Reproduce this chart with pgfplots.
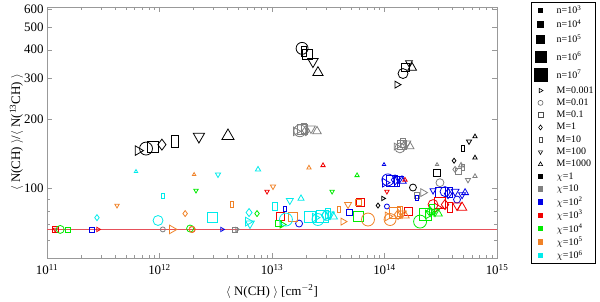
\documentclass[border=0pt]{standalone}
\usepackage{fontspec}
\setmainfont{Liberation Serif}
\usepackage{pgfplots}
\pgfplotsset{compat=1.18}
\definecolor{cgray}{RGB}{128,128,128}
\definecolor{cblue}{RGB}{0,0,230}
\definecolor{cred}{RGB}{240,0,0}
\definecolor{cgreen}{RGB}{0,235,0}
\definecolor{corange}{RGB}{240,130,40}
\definecolor{ccyan}{RGB}{0,235,235}
\definecolor{cline}{RGB}{230,80,90}
\pgfplotsset{
  pt/.style={scatter, only marks, forget plot, point meta=explicit, line width=0.8bp,
    scatter/use mapped color={draw=#1, fill=none},
    visualization depends on={\thisrow{s}\as\ms},
    scatter/@pre marker code/.append style={/tikz/mark size=\ms}},
  shR/.style={mark=triangle, mark options={rotate=-90, line width=0.8bp}},
  shC/.style={mark=o, mark options={line width=0.8bp}},
  shS/.style={mark=square, mark options={line width=0.8bp}},
  shDi/.style={mark=diamond, mark options={line width=0.8bp}},
  shRect/.style={mark=square, mark options={xscale=0.55, line width=0.8bp}},
  shD/.style={mark=triangle, mark options={rotate=180, line width=0.8bp}},
  shU/.style={mark=triangle, mark options={line width=0.8bp}},
  limg/.style={legend image code/.code={%
    \path[draw=none,fill=none] (0bp,-#1) rectangle (23bp,#1);
    \draw[mark repeat=2,mark phase=2] plot coordinates {(0bp,0bp) (8bp,0bp) (16bp,0bp)};}},
}
\begin{document}
\begin{tikzpicture}
\useasboundingbox (0,0) rectangle (600bp,302bp);
\begin{axis}[
  at={(47bp,44bp)}, anchor=south west,
  scale only axis, width=450bp, height=251bp,
  xmode=log, ymode=log,
  xmin=1e11, xmax=1e15, ymin=50, ymax=612,
  xtick={1e11,1e12,1e13,1e14,1e15},
  xticklabels={10\textsuperscript{11},10\textsuperscript{12},10\textsuperscript{13},10\textsuperscript{14},10\textsuperscript{15}},
  minor xtick={2e11,3e11,4e11,5e11,6e11,7e11,8e11,9e11,2e12,3e12,4e12,5e12,6e12,7e12,8e12,9e12,2e13,3e13,4e13,5e13,6e13,7e13,8e13,9e13,2e14,3e14,4e14,5e14,6e14,7e14,8e14,9e14},
  ytick={100,200,300,400,500,600},
  yticklabels={100,200,300,400,500,600},
  minor ytick={60,70,80,90},
  tick label style={font=\fontsize{13}{14}\selectfont},
  xticklabel style={yshift=-3bp},
  label style={font=\fontsize{13}{14}\selectfont},
  axis line style={draw=gray!80},
  tick style={draw=gray!80},
  major tick length=5bp, minor tick length=3bp,
  tick align=inside,
  xlabel={$\langle$ N(CH) $\rangle$ [cm\textsuperscript{$-$2}]},
  ylabel={$\langle$ N(CH) $\rangle$/$\langle$ N(\textsuperscript{13}CH) $\rangle$},
  xlabel style={yshift=-3bp},
  ylabel style={yshift=-6bp},
  clip=false,
  legend cell align=left,
  legend style={at={(1.0756,1.02)}, anchor=north west, draw=black, line width=0.9bp,
    font=\fontsize{10}{11}\selectfont, row sep=1.3bp, inner xsep=1bp, inner ysep=2bp,
    nodes={inner sep=1.2bp}},
  limg=5.5bp,
]
\addplot[cline, line width=0.6bp, forget plot] coordinates {(1e11,66.5) (1e15,66.5)};

% ---------- chi = 1 (black)
\addplot[pt=black, shR] table[meta=s]{
x y s
6.44e11 146 5.5
1.29e14 282 4
9.7e13 90.6 2.5
};
\addplot[pt=black, shC] table[meta=s]{
x y s
7.59e11 149 6.5
1.85e13 405 6
1.46e14 315 5
1.79e14 101 3.5
};
\addplot[pt=black, shS] table[meta=s]{
x y s
8.75e11 152 5.5
2.05e13 380 5
1.52e14 334 4
2.93e14 117 3.5
};
\addplot[pt=black, shDi] table[meta=s]{
x y s
1.05e12 155 5.5
8.75e13 84.4 2.5
4.15e14 132 2.5
};
\addplot[pt=black, shRect] table[meta=s]{
x y s
1.37e12 160 6
1.92e13 392 5
4.99e14 149 3
};
\addplot[pt=black, shD] table[meta=s]{
x y s
2.24e12 168 6.5
2.31e13 355 6
1.65e14 351 4
5.64e14 160 3
};
\addplot[pt=black, shU] table[meta=s]{
x y s
4.06e12 169 7
2.56e13 318 6
1.76e14 334 5
6.37e14 168 2.5
6.37e14 136 2.5
};

% ---------- chi = 10 (gray)
\addplot[pt=cgray, shR] table[meta=s]{
x y s
1.63e13 177 5
1.27e14 152 4
2.2e14 96 4.5
4.89e12 66.5 2.5
};
\addplot[pt=cgray, shC] table[meta=s]{
x y s
1.77e13 178 6
1.37e14 150 5
3.11e14 106 4
1.07e12 66.5 2.5
};
\addplot[pt=cgray, shS] table[meta=s]{
x y s
1.85e13 180 5
1.43e14 155 4.5
4.5e14 118.5 3
1.94e14 93.3 3
4.69e12 66.5 2.5
};
\addplot[pt=cgray, shDi] table[meta=s]{
x y s
2.0e13 178 5
1.49e14 153 4.5
4.24e14 121 3
};
\addplot[pt=cgray, shRect] table[meta=s]{
x y s
1.92e13 182 5
1.46e14 157 4.5
4.99e14 123 3
};
\addplot[pt=cgray, shD] table[meta=s]{
x y s
2.22e13 182 5
1.58e14 157 4.5
5.52e14 109 3
};
\addplot[pt=cgray, shU] table[meta=s]{
x y s
2.51e13 177 5
1.69e14 152 4.5
4.79e14 126 3
6.37e14 113 2.5
2.93e14 127 2
};

% ---------- chi = 10^2 (blue)
\addplot[pt=cblue, shR] table[meta=s]{
x y s
1.01e14 106 5
3.59e12 66.5 2.5
};
\addplot[pt=cblue, shC] table[meta=s]{
x y s
1.07e14 109 6
3.45e14 97 5
4.41e14 89.6 3.5
1.74e13 70.5 3.5
1.05e14 83.6 2.5
};
\addplot[pt=cblue, shS] table[meta=s]{
x y s
1.17e14 108 5.5
3.11e14 96 5
4.84e13 78.7 3
2.51e11 66.5 2.5
};
\addplot[pt=cblue, shDi] table[meta=s]{
x y s
1.24e14 109 5
3.67e14 95 5
};
\addplot[pt=cblue, shRect] table[meta=s]{
x y s
1.29e14 107 5
3.82e14 96 5
1.31e13 81.9 2.5
1.94e14 91.4 2.5
};
\addplot[pt=cblue, shD] table[meta=s]{
x y s
1.35e14 110 5
2.7e14 98 3.5
4.24e14 97 4.5
4.89e14 94 4
};
\addplot[pt=cblue, shU] table[meta=s]{
x y s
1.43e14 108 5
5.2e14 96 4
9.9e13 127 2
};

% ---------- chi = 10^3 (red)
\addplot[pt=cred, shR] table[meta=s]{
x y s
2.93e14 82.7 5
2.84e11 66.5 2.5
};
\addplot[pt=cred, shC] table[meta=s]{
x y s
2.7e14 85.2 5
1.95e12 66.5 3
};
\addplot[pt=cred, shS] table[meta=s]{
x y s
3.11e14 86.9 5.5
1.18e13 75.7 4
6.05e13 86.9 4
1.62e14 79.4 4
1.18e11 66.5 3
};
\addplot[pt=cred, shDi] table[meta=s]{
x y s
3.45e14 85.2 5
};
\addplot[pt=cred, shRect] table[meta=s]{
x y s
3.82e14 82.7 5
};
\addplot[pt=cred, shD] table[meta=s]{
x y s
4.41e14 84.4 5
9.03e12 97 2.5
1.05e14 97 2.5
1.18e11 66.5 2.5
};
\addplot[pt=cred, shU] table[meta=s]{
x y s
4.89e14 82.7 5.5
2.84e13 126 2.5
1.52e14 109 2.5
};

% ---------- chi = 10^4 (green)
\addplot[pt=cgreen, shR] table[meta=s]{
x y s
2.44e14 77.2 5
1.23e13 69.8 4
};
\addplot[pt=cgreen, shC] table[meta=s]{
x y s
2.07e14 71.9 6.5
1.31e11 66.5 4
1.87e12 67.1 3.5
};
\addplot[pt=cgreen, shS] table[meta=s]{
x y s
2.29e14 77.2 6
5.81e13 75.7 5
1.54e11 66.5 2.5
1.15e13 70.5 3
};
\addplot[pt=cgreen, shDi] table[meta=s]{
x y s
2.54e14 79.4 5
7.36e12 77.9 3
};
\addplot[pt=cgreen, shRect] table[meta=s]{
x y s
2.64e14 81.1 5
};
\addplot[pt=cgreen, shD] table[meta=s]{
x y s
2.81e14 79.4 5
3.42e13 97 2.5
2.11e12 98 2.5
};
\addplot[pt=cgreen, shU] table[meta=s]{
x y s
2.99e14 77.9 5
5.7e13 114 2.5
};

% ---------- chi = 10^5 (orange)
\addplot[pt=corange, shR] table[meta=s]{
x y s
1.07e14 75.7 5
1.29e12 66.5 5
4.28e13 71.9 4
};
\addplot[pt=corange, shC] table[meta=s]{
x y s
1.12e14 73.4 6
7.13e13 73.4 6.5
1.95e12 66.5 3
};
\addplot[pt=corange, shS] table[meta=s]{
x y s
1.24e14 78.7 5.5
1.54e13 75.7 4.5
5.81e13 86.9 3
};
\addplot[pt=corange, shDi] table[meta=s]{
x y s
1.32e14 77.2 5
1.69e12 77.9 3
};
\addplot[pt=corange, shRect] table[meta=s]{
x y s
1.37e14 79.4 5
4.41e12 85.2 3
3.94e13 81.1 3
};
\addplot[pt=corange, shD] table[meta=s]{
x y s
1.43e14 77.9 5
4.19e11 84.4 2.5
1.02e13 102 3
4.74e13 85.2 4
};
\addplot[pt=corange, shU] table[meta=s]{
x y s
1.52e14 76.4 5
2.13e13 123 2.5
2.03e12 115 2
};

% ---------- chi = 10^6 (cyan)
\addplot[pt=ccyan, shR] table[meta=s]{
x y s
2.41e13 74.8 5
6.12e12 71.9 5
};
\addplot[pt=ccyan, shC] table[meta=s]{
x y s
2.56e13 73.4 6
3.08e13 76.4 5
1.33e13 73.4 6.5
9.7e11 72.7 5
};
\addplot[pt=ccyan, shS] table[meta=s]{
x y s
2.78e13 75.7 6
2.18e13 75.7 5.5
2.93e12 74.8 5
};
\addplot[pt=ccyan, shDi] table[meta=s]{
x y s
2.96e13 76.4 5
2.78e11 74.8 3
6.25e12 78.7 4
};
\addplot[pt=ccyan, shRect] table[meta=s]{
x y s
3.15e13 77.9 5
1.06e13 83.6 4
1.07e12 93.3 2.5
};
\addplot[pt=ccyan, shD] table[meta=s]{
x y s
3.28e13 77.2 5
1.44e13 88.7 4
3.31e12 115 3
6.37e12 70.5 5
};
\addplot[pt=ccyan, shU] table[meta=s]{
x y s
3.49e13 75.7 5
1.81e13 90.6 3.5
6.18e11 118.5 2
7.51e12 121 3
};

% ---------- legend
\addlegendimage{limg=5.5bp, only marks, mark=square*, mark size=2, black}
\addlegendentry{n=10\textsuperscript{3}}
\addlegendimage{limg=6.5bp, only marks, mark=square*, mark size=3, black}
\addlegendentry{n=10\textsuperscript{4}}
\addlegendimage{limg=7.5bp, only marks, mark=square*, mark size=4, black}
\addlegendentry{n=10\textsuperscript{5}}
\addlegendimage{limg=8.5bp, only marks, mark=square*, mark size=5.5, black}
\addlegendentry{n=10\textsuperscript{6}}
\addlegendimage{limg=8.5bp, only marks, mark=square*, mark size=6.5, black}
\addlegendentry{n=10\textsuperscript{7}}
\addlegendimage{only marks, black, mark=triangle, mark size=2.5, mark options={rotate=-90, line width=0.6bp}}
\addlegendentry{M=0.001}
\addlegendimage{only marks, black!60, mark=o, mark size=2.5, mark options={line width=0.6bp}}
\addlegendentry{M=0.01}
\addlegendimage{only marks, black!70, mark=square, mark size=2.5, mark options={line width=0.6bp}}
\addlegendentry{M=0.1}
\addlegendimage{only marks, black, mark=diamond, mark size=2.5, mark options={line width=0.6bp}}
\addlegendentry{M=1}
\addlegendimage{only marks, black!70, mark=square, mark size=2.5, mark options={xscale=0.55, line width=0.6bp}}
\addlegendentry{M=10}
\addlegendimage{only marks, black, mark=triangle, mark size=2.5, mark options={rotate=180, line width=0.6bp}}
\addlegendentry{M=100}
\addlegendimage{only marks, black, mark=triangle, mark size=2.5, mark options={line width=0.6bp}}
\addlegendentry{M=1000}
\addlegendimage{only marks, mark=square*, mark size=2.2, black}
\addlegendentry{$\chi$=1}
\addlegendimage{only marks, mark=square*, mark size=2.2, cgray}
\addlegendentry{$\chi$=10}
\addlegendimage{only marks, mark=square*, mark size=2.2, cblue}
\addlegendentry{$\chi$=10\textsuperscript{2}}
\addlegendimage{only marks, mark=square*, mark size=2.2, cred}
\addlegendentry{$\chi$=10\textsuperscript{3}}
\addlegendimage{only marks, mark=square*, mark size=2.2, cgreen}
\addlegendentry{$\chi$=10\textsuperscript{4}}
\addlegendimage{only marks, mark=square*, mark size=2.2, corange}
\addlegendentry{$\chi$=10\textsuperscript{5}}
\addlegendimage{only marks, mark=square*, mark size=2.2, ccyan}
\addlegendentry{$\chi$=10\textsuperscript{6}}
\end{axis}
\end{tikzpicture}
\end{document}
